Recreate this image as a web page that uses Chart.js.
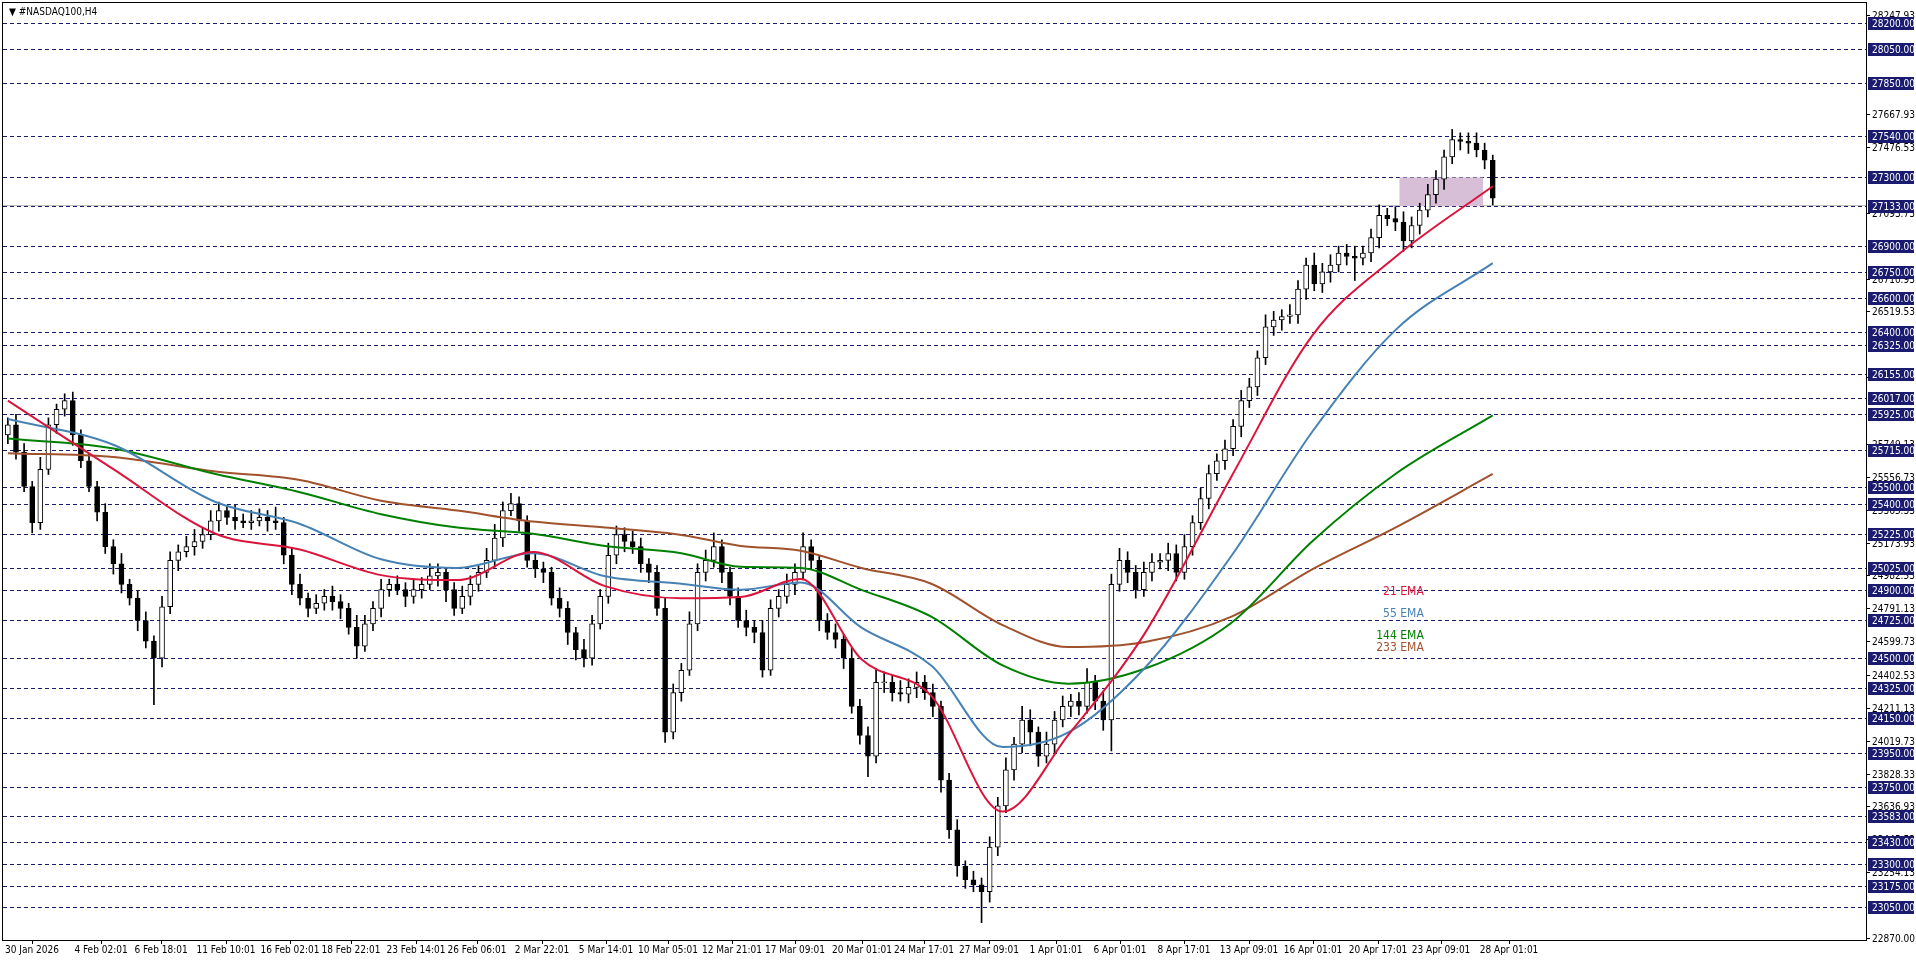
<!DOCTYPE html>
<html><head><meta charset="utf-8">
<script src="https://cdn.jsdelivr.net/npm/chart.js@4/dist/chart.umd.min.js"></script>
<style>html,body{margin:0;padding:0;background:#fff;overflow:hidden}canvas{display:block}</style>
</head><body>
<canvas id="c" width="1916" height="963"></canvas>
<script>
const title = "#NASDAQ100,H4";
const closes = [25860,25700,25500,25290,25600,25860,25950,26000,25800,25650,
25500,25350,25150,25050,24930,24850,24720,24600,24500,24800,
25070,25120,25150,25180,25220,25300,25360,25320,25300,25290,
25300,25320,25300,25290,25100,24930,24850,24790,24820,24860,
24830,24790,24680,24570,24700,24790,24900,24930,24900,24860,
24900,24930,24980,25000,24900,24790,24860,24930,25000,25070,
25200,25360,25400,25300,25070,25020,25000,24850,24790,24650,
24550,24500,24700,24860,25100,25220,25180,25150,25050,25000,
24790,24070,24300,24430,24700,25000,25070,25150,25000,24860,
24720,24680,24650,24430,24790,24860,24930,25000,25150,25070,
24720,24650,24610,24500,24220,24050,23930,24360,24360,24300,
24290,24330,24360,24300,24220,23790,23500,23290,23210,23180,
23140,23400,23640,23850,24000,24140,24070,23930,24000,24140,
24220,24250,24220,24360,24250,24140,24930,25070,25000,24900,
25000,25060,25070,25110,25000,25150,25290,25430,25575,25650,
25720,25850,26000,26080,26250,26430,26470,26490,26500,26650,
26790,26680,26750,26790,26860,26840,26830,26860,26950,27080,
27060,27040,26930,27020,27110,27200,27290,27420,27520,27510,
27500,27460,27400,27180];
const firstOpen = 25800;
const wickUp = [40,60,50,30,70,40,30,40,50,30,40,30,50,40,60,30,40,50,30,60,
50,40,60,70,40,60,50,30,70,40,60,50,40,80,30,40,60,30,50,40,
60,40,30,70,50,40,60,30,50,40,60,40,70,50,30,40,60,50,40,70,
80,50,60,40,30,50,40,30,60,40,30,60,50,40,70,50,40,60,50,30,
40,60,50,40,70,50,60,80,40,30,50,60,40,70,50,40,60,50,80,40,
30,40,50,30,60,40,50,80,60,40,70,50,60,40,50,30,40,60,30,50,
40,60,50,70,40,80,60,30,70,50,60,40,50,80,40,60,60,70,50,40,
60,50,40,60,50,70,40,60,50,40,50,40,60,50,40,70,50,40,60,50,
40,70,50,60,40,50,60,40,50,60,40,70,60,50,40,60,50,40,60,40,50,60,40,30];
const wickDn = [50,40,30,60,40,30,50,40,60,40,30,50,40,60,50,40,60,40,270,50,
40,60,30,50,40,30,60,40,50,30,40,30,60,40,50,60,40,50,30,40,
50,60,40,70,30,40,50,40,30,60,40,50,30,60,70,40,30,50,40,30,
40,50,30,60,40,50,60,40,50,70,60,50,40,30,40,50,60,40,50,60,
40,60,40,50,30,40,50,40,60,50,40,50,60,40,30,50,40,60,40,50,
60,40,50,60,40,50,120,40,60,50,40,50,60,40,60,70,50,60,50,40,
180,60,50,40,60,50,80,60,40,50,40,60,50,40,50,60,180,40,60,50,
40,50,40,60,50,40,50,40,60,40,50,40,60,40,50,40,50,60,40,50,
60,40,50,60,40,50,130,40,50,60,40,50,60,40,50,40,50,60,40,50,60,40,50,40];
const emaIdx = [0,13,25.6,36,46,55.4,64.7,73.6,83,90.3,97.7,105.2,113.8,122.6,130.7,140,150.8,160.8,171,183];
const ema21 = [26000,25601,25225,25133,24984,24955,25119,24920,24849,24856,24962,24494,24281,23607,24054,24636,25559,26382,26837,27249];
const ema55 = [25893,25743,25410,25282,25076,25026,25112,24977,24934,24899,24941,24678,24458,23983,24068,24437,25097,25822,26411,26801];
const ema144 = [25779,25722,25573,25467,25339,25261,25225,25154,25112,25033,25026,24898,24742,24458,24352,24437,24707,25183,25573,25914];
const ema233 = [25694,25672,25587,25538,25417,25360,25296,25261,25218,25154,25126,25026,24934,24693,24565,24593,24742,25019,25261,25573];
const levels = [28200,28050,27850,27540,27300,27133,26900,26750,26600,26400,26325,26155,26017,25925,25715,25500,25400,25225,25025,24900,24725,24500,24325,24150,23950,23750,23583,23430,23300,23175,23050];
const tickLabels = [28247.93,27667.93,27476.53,27093.73,26710.93,26519.53,26136.73,25749.13,25556.73,25365.33,25173.93,24982.53,24791.13,24599.73,24402.53,24211.13,24019.73,23828.33,23636.93,23445.53,23254.13,22870.00];
const bidPrice = 27140;
const zoneTop = 27300, zoneBottom = 27133, zoneFrom = 171.5, zoneTo = 181.8;
const timeLabels = ["30 Jan 2026","4 Feb 02:01","6 Feb 18:01","11 Feb 10:01","16 Feb 02:01","18 Feb 22:01","23 Feb 14:01","26 Feb 06:01","2 Mar 22:01","5 Mar 14:01","10 Mar 05:01","12 Mar 21:01","17 Mar 09:01","20 Mar 01:01","24 Mar 17:01","27 Mar 09:01","1 Apr 01:01","6 Apr 01:01","8 Apr 17:01","13 Apr 09:01","16 Apr 01:01","20 Apr 17:01","23 Apr 09:01","28 Apr 01:01"];
const timeIdx = [3,11.5,18.9,26.9,34.8,42.3,50.3,57.8,65.8,73.7,81.4,89.2,97,105.3,112.9,120.9,129.2,137,144.9,152.9,160.8,168.8,176.6,185];
const emaNames = ["21 EMA","55 EMA","144 EMA","233 EMA"];
const emaColors = ["#dc143c","#4682b4","#008000","#a0522d"];
const emaLabelPrice = [24884,24757,24629,24558];
const emaLabelIdx = 174.5;

const opens = closes.map((c,i)=> i===0 ? firstOpen : closes[i-1]);
const bodies = closes.map((c,i)=>{const o=opens[i];let a=Math.min(o,c),b=Math.max(o,c);if(b-a<6){a-=3;b+=3;}return {x:i,y:[a,b]};});
const wicks = closes.map((c,i)=>{const o=opens[i];return {x:i,y:[Math.min(o,c)-wickDn[i],Math.max(o,c)+wickUp[i]]};});
const bodyFill = closes.map((c,i)=> c>=opens[i] ? '#ffffff' : '#000000');
const emaSets = [ema21,ema55,ema144,ema233].map((arr,k)=>({type:'line',data:arr.map((v,i)=>({x:emaIdx[i],y:v})),borderColor:emaColors[k],borderWidth:2,pointRadius:0,cubicInterpolationMode:'monotone',order:0}));

const FONT = '10px "DejaVu Sans Condensed", "Liberation Sans Narrow", "Liberation Sans", sans-serif';
const FONT2 = '12px "DejaVu Sans Condensed", "Liberation Sans", sans-serif';
const overlay = {
  id:'overlay',
  beforeDatasetsDraw(ch){
    const {ctx,chartArea:a,scales:{x,y}}=ch;
    ctx.save();
    ctx.strokeStyle='#1a1a6e';ctx.lineWidth=1;ctx.setLineDash([4,3]);
    levels.forEach(v=>{const py=Math.round(y.getPixelForValue(v))+0.5;ctx.beginPath();ctx.moveTo(a.left,py);ctx.lineTo(a.right,py);ctx.stroke();});
    ctx.setLineDash([]);
    ctx.strokeStyle='#c0c0c0';const by=Math.round(y.getPixelForValue(bidPrice))+0.5;ctx.beginPath();ctx.moveTo(a.left,by);ctx.lineTo(a.right,by);ctx.stroke();
    ctx.fillStyle='#d8bfd8';
    const x1=x.getPixelForValue(zoneFrom),x2=x.getPixelForValue(zoneTo),y1=y.getPixelForValue(zoneTop),y2=y.getPixelForValue(zoneBottom);
    ctx.fillRect(x1,y1,x2-x1,y2-y1);
    ctx.restore();
  },
  afterDraw(ch){
    const {ctx,chartArea:a,scales:{x,y}}=ch;
    ctx.save();
    ctx.strokeStyle='#000';ctx.lineWidth=1;
    ctx.strokeRect(a.left-0.5,a.top-0.5,a.right-a.left+1,a.bottom-a.top+1);
    ctx.font=FONT;ctx.textBaseline='middle';ctx.textAlign='left';
    tickLabels.forEach(v=>{const py=Math.round(y.getPixelForValue(v));ctx.fillStyle='#000';ctx.fillRect(a.right,py,4,1);ctx.fillText(v.toFixed(2),a.right+6,py+1);});
    levels.forEach(v=>{const py=Math.round(y.getPixelForValue(v));ctx.fillStyle='#1a1a6e';ctx.fillRect(a.right+2,py-6,46,13);ctx.fillStyle='#fff';ctx.fillText(v.toFixed(2),a.right+6,py+1);});
    ctx.fillStyle='#000';ctx.textBaseline='top';
    timeLabels.forEach((t,i)=>{const px=Math.round(x.getPixelForValue(timeIdx[i]));ctx.fillRect(px,a.bottom,1,4);ctx.textAlign='center';ctx.fillText(t,Math.max(px,a.left+28),a.bottom+5);});
    ctx.textAlign='left';ctx.textBaseline='middle';
    ctx.fillText('▼ '+title,a.left+6,a.top+9);
    ctx.font=FONT2;ctx.textAlign='right';
    emaNames.forEach((n,k)=>{ctx.fillStyle=emaColors[k];ctx.fillText(n,x.getPixelForValue(emaLabelIdx),y.getPixelForValue(emaLabelPrice[k]));});
    ctx.restore();
  }
};

new Chart(document.getElementById('c'),{
  type:'bar',
  data:{datasets:[
    ...emaSets,
    {type:'bar',data:bodies,backgroundColor:bodyFill,borderColor:'#000',borderWidth:1,barThickness:5,grouped:false,order:1,borderSkipped:false},
    {type:'bar',data:wicks,backgroundColor:'#000',borderWidth:0,barThickness:1,grouped:false,order:2}
  ]},
  options:{
    responsive:false,animation:false,devicePixelRatio:1,
    layout:{padding:{left:3,top:3,right:50,bottom:23}},
    plugins:{legend:{display:false},tooltip:{enabled:false}},
    scales:{
      x:{type:'linear',min:-0.6,max:229,offset:false,display:false,grid:{display:false}},
      y:{type:'linear',min:22859,max:28316,display:false,grid:{display:false}}
    }
  },
  plugins:[overlay]
});
</script>
</body></html>
